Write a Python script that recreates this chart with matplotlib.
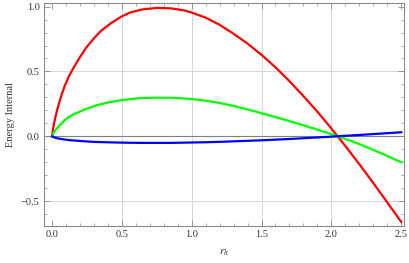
import numpy as np
import matplotlib
matplotlib.use('agg')
import matplotlib.pyplot as plt
from matplotlib.ticker import MultipleLocator

# values
r_h = [0, 0.007, 0.015, 0.026, 0.04, 0.06, 0.09, 0.12, 0.15, 0.2,
       0.25, 0.3, 0.35, 0.42, 0.5, 0.56, 0.65, 0.75, 0.85, 0.95,
       1.0, 1.1, 1.2, 1.3, 1.4, 1.5, 1.6, 1.7, 1.8, 1.9,
       2.0, 2.045, 2.1, 2.2, 2.3, 2.4, 2.5]
energy_red = [0, 0.05, 0.10, 0.155, 0.215, 0.29, 0.385, 0.46, 0.52, 0.61,
              0.69, 0.755, 0.812, 0.87, 0.925, 0.955, 0.979, 0.99, 0.987, 0.97,
              0.954, 0.915, 0.86, 0.79, 0.715, 0.628, 0.532, 0.425, 0.31, 0.19,
              0.06, 0.0, -0.075, -0.215, -0.36, -0.51, -0.66]
energy_green = [0, 0.015, 0.03, 0.048, 0.066, 0.09, 0.122, 0.148, 0.167, 0.19,
                0.213, 0.232, 0.248, 0.264, 0.279, 0.287, 0.295, 0.298, 0.297, 0.291,
                0.287, 0.275, 0.257, 0.234, 0.207, 0.178, 0.148, 0.117, 0.085, 0.051,
                0.016, 0.0, -0.02, -0.06, -0.105, -0.152, -0.20]
energy_blue = [0, -0.004, -0.008, -0.012, -0.016, -0.02, -0.025, -0.029, -0.032, -0.036,
               -0.04, -0.043, -0.045, -0.047, -0.049, -0.05, -0.051, -0.051, -0.051, -0.049,
               -0.048, -0.046, -0.043, -0.039, -0.035, -0.031, -0.026, -0.021, -0.015, -0.009,
               -0.003, 0.0, 0.004, 0.01, 0.017, 0.024, 0.031]

plt.rcParams['font.family'] = ['Liberation Serif', 'DejaVu Serif']
plt.rcParams['mathtext.fontset'] = 'stix'

fig = plt.figure(figsize=(4.09, 2.63), dpi=100)
ax = fig.add_axes([0.1076, 0.1407, 0.8802, 0.8479])

frame_col = '#8a8a8a'
for x in [0.5, 1.0, 1.5, 2.0]:
    ax.axvline(x, color='#d6d6d6', lw=0.7, zorder=0)
for y in [-0.5, 0.5]:
    ax.axhline(y, color='#d6d6d6', lw=0.7, zorder=0)
ax.axhline(0, color='#808080', lw=0.8, zorder=1)

ax.plot(r_h, energy_red, color='#ff0000', lw=1.6, zorder=3, solid_joinstyle='round')
ax.plot(r_h, energy_green, color='#00ff00', lw=1.6, zorder=3, solid_joinstyle='round')
ax.plot(r_h, energy_blue, color='#0000ff', lw=1.6, zorder=4, solid_joinstyle='round')

ax.set_xlim(-0.057, 2.52)
ax.set_ylim(-0.692, 1.028)

ax.xaxis.set_major_locator(MultipleLocator(0.5))
ax.xaxis.set_minor_locator(MultipleLocator(0.1))
ax.yaxis.set_major_locator(MultipleLocator(0.5))
ax.yaxis.set_minor_locator(MultipleLocator(0.1))
ax.xaxis.set_major_formatter(plt.FormatStrFormatter('%.1f'))
ax.yaxis.set_major_formatter(plt.FuncFormatter(lambda v, p: ('%.1f' % v).replace('-', '\u2212')))
ax.tick_params(which='both', direction='in', top=True, right=True, color=frame_col,
               labelsize=7.5, labelcolor='#333333', pad=3)
ax.tick_params(which='major', length=4, width=0.6)
ax.tick_params(which='minor', length=2, width=0.5)
for s in ax.spines.values():
    s.set_color(frame_col)
    s.set_linewidth(0.8)

ax.set_ylabel('Energy Internal', fontsize=7.5, color='#333333', labelpad=4)
ax.set_xlabel('$r_h$', fontsize=8, color='#333333', labelpad=6)

fig.savefig('out.png', dpi=100)
